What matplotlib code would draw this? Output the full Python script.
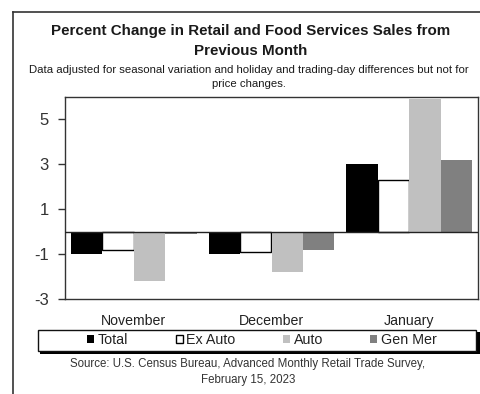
import matplotlib
matplotlib.use("Agg")
import matplotlib.pyplot as plt
import numpy as np
from matplotlib.patches import Patch, Rectangle
from matplotlib.lines import Line2D

plt.rcParams['font.family'] = ['Liberation Sans', 'DejaVu Sans']

categories = ["November", "December", "January"]
series_names = ["Total", "Ex Auto", "Auto", "Gen Mer"]
total = [-1.0, -1.0, 3.0]
ex_auto = [-0.8, -0.9, 2.3]
auto = [-2.2, -1.8, 5.9]
gen_mer = [-0.1, -0.8, 3.2]
yticks = [-3, -1, 1, 3, 5]

fills = ["#000000", "#ffffff", "#c0c0c0", "#808080"]
edges = ["#000000", "#000000", "#c0c0c0", "#808080"]

W, H = 480, 394
fig = plt.figure(figsize=(W / 100, H / 100), dpi=100)

def fx(px):
    return px / W

def fy(py):
    return 1 - py / H

ax = fig.add_axes([fx(65), fy(299), fx(478) - fx(65), fy(97) - fy(299)])

x = np.arange(len(categories))
bw = 0.228
data = [total, ex_auto, auto, gen_mer]
for i, vals in enumerate(data):
    off = (i - 1.5) * bw
    ax.bar(x + off, vals, width=bw, color=fills[i], edgecolor=edges[i],
           linewidth=1.0 if i == 1 else 0, zorder=2)

ax.axhline(0, color="#222222", linewidth=1.0, zorder=3)
ax.set_xlim(-0.5, 2.5)
ax.set_ylim(-3, 6)
ax.set_yticks(yticks)
ax.set_yticklabels([str(v) for v in yticks])
ax.set_xticks(x)
ax.set_xticklabels(categories)
ax.tick_params(axis='y', direction='out', length=5, width=1, pad=6.5,
               labelsize=12, colors="#333333")
ax.tick_params(axis='x', length=0, pad=10.5, labelsize=10.2, colors="#222222")
for s in ax.spines.values():
    s.set_color("#333333")
    s.set_linewidth(1.0)

# titles
fig.text(0.523, fy(31), "Percent Change in Retail and Food Services Sales from",
         ha='center', va='center', fontsize=10.9, fontweight='bold', color="#1a1a1a")
fig.text(0.523, fy(51), "Previous Month", ha='center', va='center',
         fontsize=10.9, fontweight='bold', color="#1a1a1a")
fig.text(0.518, fy(70), "Data adjusted for seasonal variation and holiday and trading-day differences but not for",
         ha='center', va='center', fontsize=8.2, color="#1a1a1a")
fig.text(0.518, fy(84), "price changes.", ha='center', va='center', fontsize=8.2, color="#1a1a1a")

# source
fig.text(fx(248), fy(364), "Source: U.S. Census Bureau, Advanced Monthly Retail Trade Survey,",
         ha='center', va='center', fontsize=8.3, color="#333333")
fig.text(fx(248), fy(380), "February 15, 2023", ha='center', va='center',
         fontsize=8.3, color="#333333")

# legend box with shadow
shadow = Rectangle((fx(40), fy(353.5)), fx(478) - fx(38), fy(332) - fy(353.5),
                   transform=fig.transFigure, facecolor="#000000", edgecolor="none", zorder=1)
box = Rectangle((fx(38), fy(351)), fx(476) - fx(38), fy(330) - fy(351),
                transform=fig.transFigure, facecolor="white", edgecolor="#111111",
                linewidth=1.0, zorder=2)
fig.patches.extend([shadow, box])

handles = [Patch(facecolor=fills[i], edgecolor=("#000000" if i == 1 else fills[i]),
                 linewidth=1.0 if i == 1 else 0) for i in range(4)]
leg = fig.legend(handles, series_names, loc='center', bbox_to_anchor=(fx(262), fy(340)),
                 ncol=4, frameon=False, fontsize=10.3, handlelength=0.5, handleheight=0.5,
                 handletextpad=0.25, columnspacing=3.3, borderpad=0)
leg.set_zorder(5)
for t in leg.get_texts():
    t.set_color("#222222")

# outer border (top and left)
fig.add_artist(Line2D([fx(13), 1.0], [fy(12), fy(12)], transform=fig.transFigure,
                      color="#333333", linewidth=1.2))
fig.add_artist(Line2D([fx(13), fx(13)], [fy(12), 0.0], transform=fig.transFigure,
                      color="#333333", linewidth=1.2))

fig.savefig("out.png", dpi=100)
